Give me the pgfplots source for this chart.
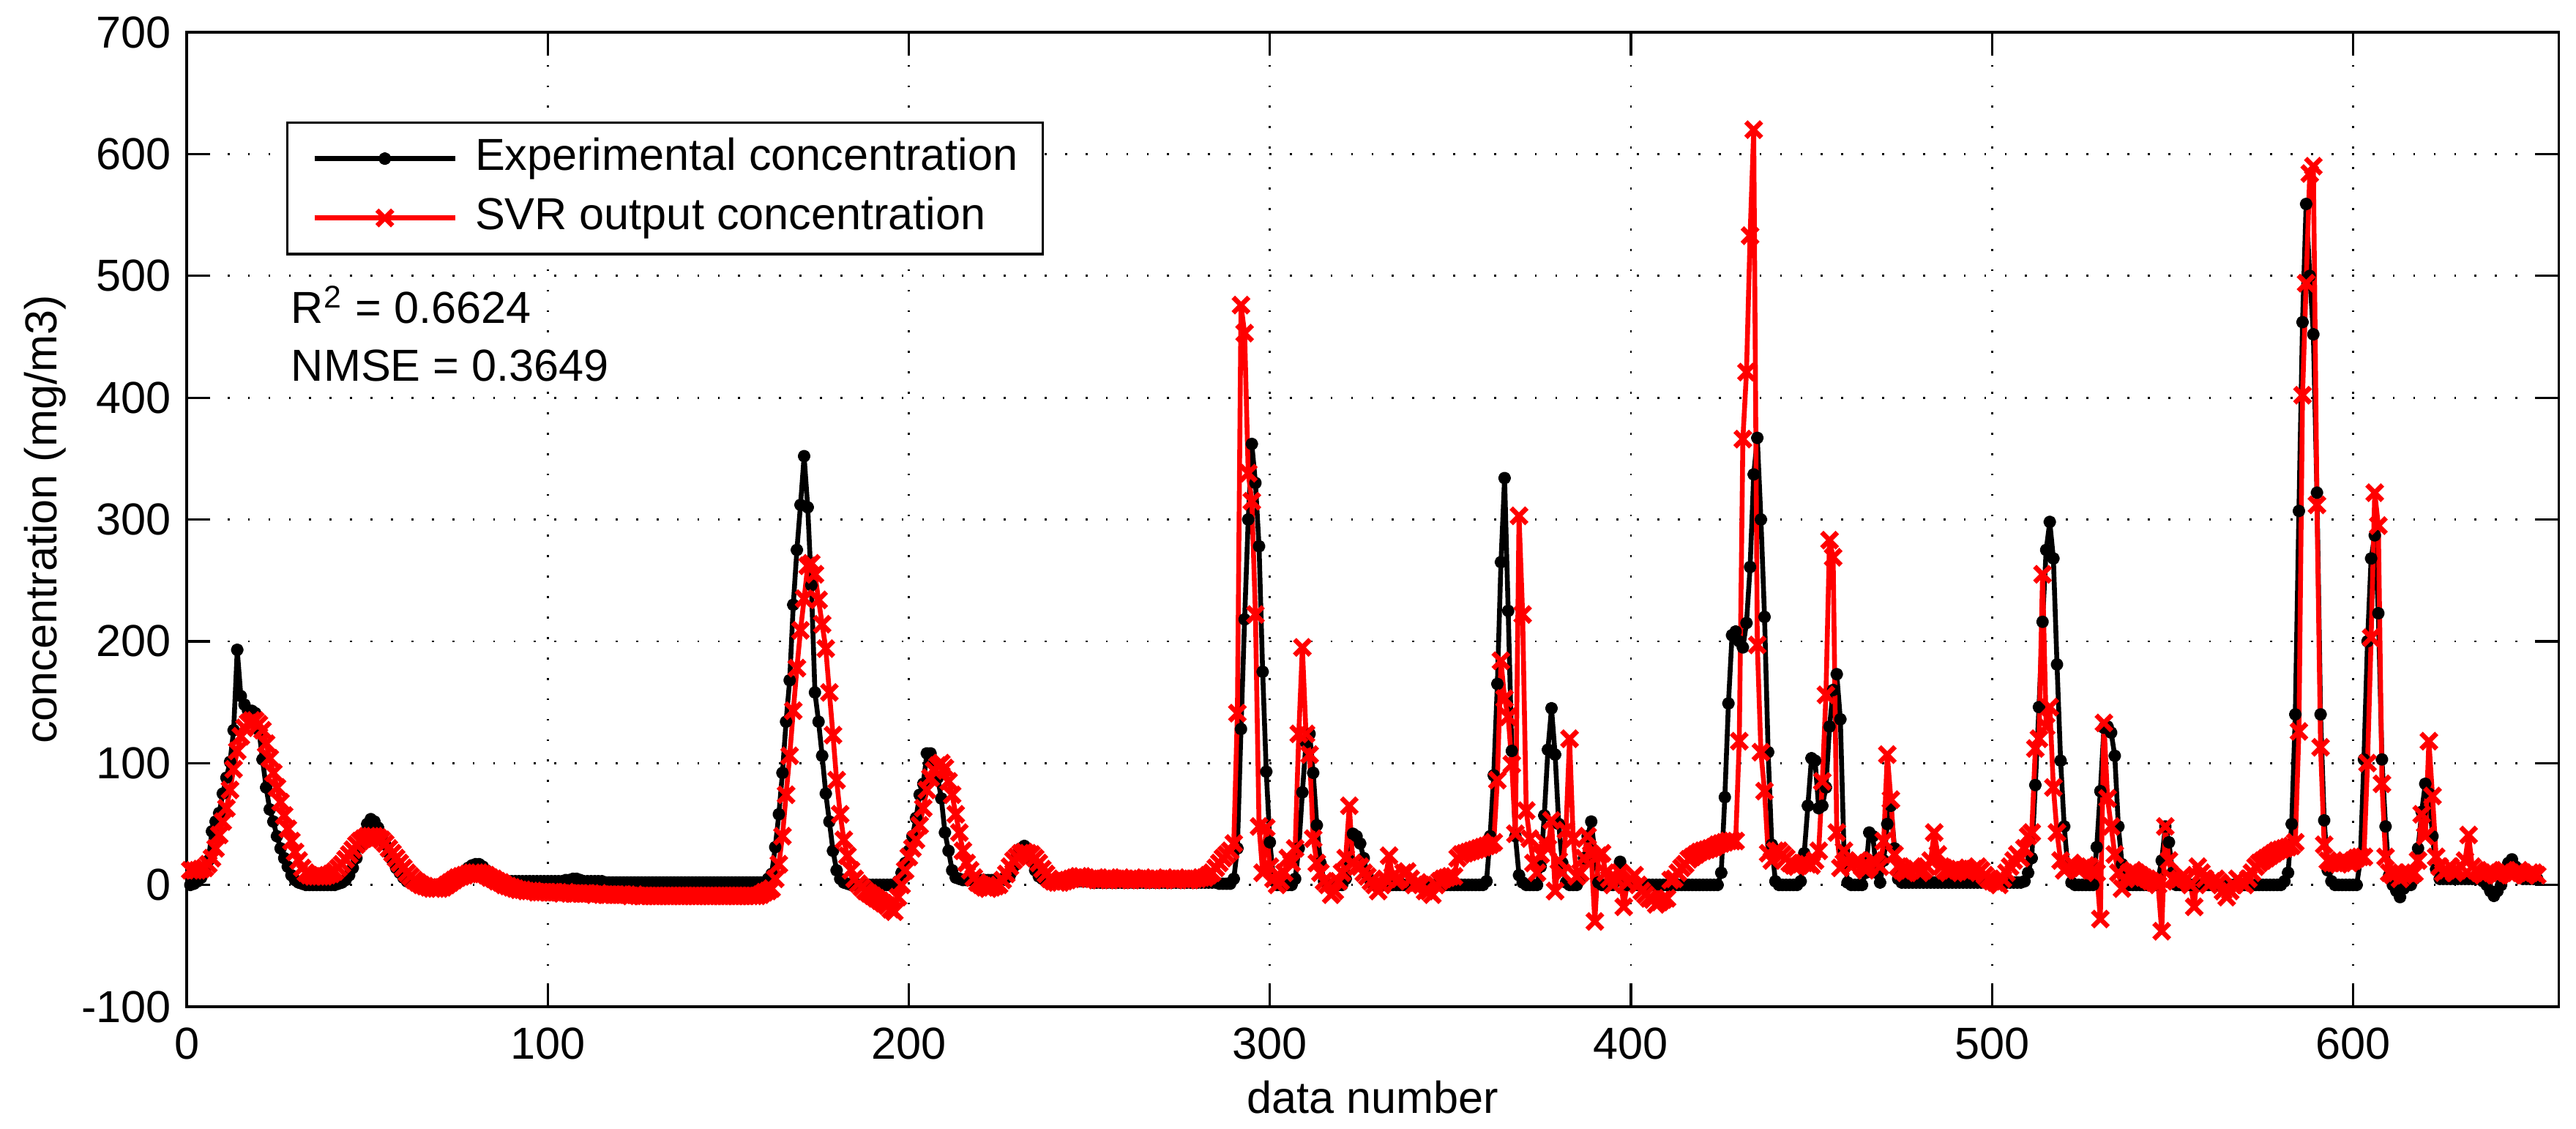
\documentclass[border=0pt]{standalone}
\usepackage{fontspec}
\setmainfont{Liberation Sans}
\usepackage{pgfplots}
\usepackage{pgfplotstable}
\pgfplotsset{compat=1.18}

\pgfplotstableread{
x E S
1 0 12
2 1 12
3 3 12
4 6 13
5 12 14
6 20 17
7 44 22
8 52 30
9 59 41
10 75 52
11 88 63
12 101 78
13 127 95
14 193 110
15 155 122
16 148 129
17 143 133
18 143 135
19 141 135
20 127 132
21 103 127
22 80 116
23 62 104
24 52 92
25 40 80
26 30 68
27 22 57
28 15 46
29 8 36
30 4 27
31 2 20
32 1 14
33 0 10
34 0 8
35 0 7
36 0 7
37 0 7
38 0 7
39 0 8
40 0 9
41 0 11
42 1 14
43 2 17
44 4 21
45 8 25
46 14 29
47 22 33
48 32 36
49 42 38
50 50 40
51 54 40
52 52 40
53 47 39
54 40 37
55 33 34
56 26 30
57 20 26
58 14 22
59 10 18
60 6 14
61 3 10
62 2 7
63 1 4
64 0 2
65 0 0
66 0 -1
67 0 -2
68 0 -3
69 0 -3
70 0 -3
71 0 -2
72 1 0
73 2 2
74 3 4
75 5 6
76 8 7
77 11 8
78 14 9
79 16 10
80 17 10
81 17 10
82 15 9
83 12 8
84 9 6
85 7 5
86 5 3
87 4 2
88 3 0
89 3 -1
90 3 -2
91 3 -3
92 3 -4
93 3 -4
94 3 -5
95 3 -5
96 3 -5
97 3 -6
98 3 -6
99 3 -6
100 3 -6
101 3 -6
102 3 -6
103 3 -6
104 3 -7
105 4 -6
106 4 -7
107 5 -7
108 5 -7
109 4 -7
110 3 -7
111 3 -7
112 3 -7
113 3 -8
114 3 -7
115 3 -8
116 2 -8
117 2 -8
118 2 -8
119 2 -8
120 2 -8
121 2 -8
122 2 -8
123 2 -9
124 2 -8
125 2 -9
126 2 -9
127 2 -9
128 2 -9
129 2 -9
130 2 -9
131 2 -9
132 2 -9
133 2 -9
134 2 -9
135 2 -9
136 2 -9
137 2 -9
138 2 -9
139 2 -9
140 2 -9
141 2 -9
142 2 -9
143 2 -9
144 2 -9
145 2 -9
146 2 -9
147 2 -9
148 2 -9
149 2 -9
150 2 -9
151 2 -9
152 2 -9
153 2 -9
154 2 -9
155 2 -9
156 2 -9
157 2 -9
158 2 -9
159 2 -8
160 2 -6
161 5 -5
162 9 -3
163 31 5
164 58 17
165 92 40
166 134 74
167 168 106
168 230 143
169 275 178
170 312 209
171 352 235
172 310 262
173 246 264
174 158 255
175 134 234
176 106 214
177 75 194
178 52 158
179 28 123
180 12 86
181 5 58
182 2 37
183 1 24
184 0 12
185 0 5
186 0 1
187 0 -2
188 0 -5
189 0 -7
190 0 -9
191 0 -11
192 0 -13
193 0 -15
194 0 -17
195 0 -20
196 0 -22
197 3 -10
198 10 0
199 18 12
200 28 23
201 40 30
202 55 37
203 74 49
204 83 63
205 108 78
206 108 88
207 100 94
208 88 98
209 71 100
210 43 96
211 28 85
212 12 74
213 6 58
214 5 43
215 4 28
216 4 18
217 4 12
218 4 6
219 4 2
220 4 0
221 4 -2
222 4 -3
223 4 -2
224 4 -1
225 4 0
226 5 4
227 6 9
228 8 15
229 15 20
230 25 23
231 30 26
232 32 27
233 28 26
234 20 25
235 12 22
236 7 18
237 5 13
238 4 9
239 3 5
240 3 3
241 3 2
242 3 2
243 3 3
244 3 4
245 3 5
246 3 6
247 3 7
248 3 7
249 3 6
250 3 5
251 2 5
252 2 4
253 2 4
254 2 5
255 2 6
256 2 6
257 2 5
258 2 4
259 2 4
260 2 5
261 2 5
262 2 6
263 2 5
264 2 4
265 2 4
266 2 5
267 2 5
268 2 6
269 2 5
270 2 4
271 2 4
272 2 5
273 2 5
274 2 6
275 2 5
276 2 5
277 2 4
278 2 4
279 2 5
280 2 5
281 2 6
282 2 6
283 2 8
284 2 10
285 2 14
286 1 18
287 1 22
288 1 25
289 1 28
290 5 34
291 30 141
292 128 476
293 218 453
294 300 338
295 362 315
296 330 222
297 278 48
298 175 10
299 93 47
300 35 15
301 5 5
302 0 0
303 0 3
304 0 10
305 0 22
306 0 18
307 5 30
308 30 124
309 76 195
310 117 124
311 124 107
312 92 38
313 49 18
314 18 10
315 3 3
316 0 0
317 0 -8
318 0 -5
319 0 3
320 0 10
321 5 22
322 20 65
323 42 18
324 40 15
325 34 15
326 22 10
327 8 7
328 2 3
329 0 0
330 0 -5
331 0 0
332 0 5
333 0 24
334 0 7
335 0 3
336 0 5
337 0 10
338 0 11
339 0 5
340 0 0
341 0 2
342 0 0
343 0 -5
344 0 -5
345 0 -8
346 0 0
347 0 3
348 0 5
349 0 6
350 0 7
351 0 7
352 0 22
353 0 25
354 0 26
355 0 27
356 0 28
357 0 29
358 0 30
359 0 31
360 3 32
361 40 33
362 90 35
363 165 86
364 265 184
365 334 153
366 225 138
367 110 99
368 40 42
369 8 303
370 2 222
371 0 61
372 0 38
373 0 18
374 0 10
375 15 25
376 57 35
377 111 30
378 145 53
379 107 -5
380 50 20
381 18 10
382 2 45
383 0 120
384 0 38
385 0 7
386 5 10
387 22 22
388 40 40
389 52 25
390 26 -30
391 2 24
392 0 26
393 0 10
394 0 5
395 0 0
396 5 5
397 19 10
398 5 -18
399 0 2
400 0 5
401 0 8
402 0 0
403 0 -5
404 0 -8
405 0 -11
406 0 -12
407 0 -16
408 0 -14
409 0 -12
410 0 -11
411 0 4
412 0 5
413 0 10
414 0 14
415 0 17
416 0 21
417 0 23
418 0 25
419 0 27
420 0 28
421 0 29
422 0 30
423 0 31
424 0 33
425 10 34
426 72 35
427 149 36
428 205 36
429 208 36
430 200 118
431 195 366
432 215 421
433 261 533
434 337 620
435 367 197
436 300 109
437 220 77
438 109 26
439 33 20
440 3 28
441 0 28
442 0 25
443 0 22
444 0 18
445 0 16
446 0 15
447 3 17
448 26 18
449 65 17
450 104 16
451 102 20
452 63 28
453 65 85
454 80 156
455 130 283
456 160 269
457 173 43
458 136 14
459 28 28
460 2 19
461 0 15
462 0 18
463 0 20
464 0 15
465 10 12
466 43 15
467 40 20
468 10 18
469 2 15
470 20 36
471 50 107
472 65 70
473 30 25
474 5 15
475 2 12
476 2 10
477 2 12
478 2 15
479 2 13
480 2 10
481 2 12
482 2 15
483 2 20
484 2 43
485 2 25
486 2 15
487 2 12
488 2 10
489 2 12
490 2 14
491 2 13
492 2 12
493 2 10
494 2 11
495 2 13
496 2 15
497 2 12
498 2 8
499 2 5
500 2 3
501 2 2
502 2 0
503 2 5
504 2 10
505 2 15
506 2 20
507 2 25
508 2 22
509 3 30
510 10 40
511 22 43
512 82 112
513 146 120
514 216 255
515 275 130
516 298 146
517 268 80
518 181 43
519 102 20
520 48 12
521 14 15
522 2 18
523 0 15
524 0 12
525 0 14
526 0 16
527 0 15
528 0 12
529 31 10
530 77 -28
531 129 133
532 130 71
533 125 48
534 106 25
535 48 10
536 17 -3
537 3 5
538 0 10
539 0 12
540 0 10
541 0 8
542 0 6
543 0 5
544 0 3
545 0 2
546 5 0
547 20 -38
548 48 48
549 35 20
550 10 5
551 0 3
552 0 5
553 0 8
554 0 5
555 0 0
556 0 -18
557 0 15
558 0 10
559 0 5
560 0 0
561 0 3
562 0 5
563 0 2
564 0 -5
565 0 -10
566 0 -5
567 0 0
568 0 5
569 0 2
570 0 0
571 0 5
572 0 10
573 0 15
574 0 18
575 0 20
576 0 22
577 0 24
578 0 26
579 0 28
580 0 29
581 3 30
582 10 31
583 50 32
584 140 35
585 307 126
586 462 402
587 559 494
588 500 584
589 452 590
590 322 312
591 140 113
592 53 33
593 12 20
594 3 18
595 0 18
596 0 17
597 0 18
598 0 20
599 0 18
600 0 20
601 0 22
602 20 23
603 103 23
604 200 100
605 268 203
606 287 322
607 223 295
608 103 83
609 48 23
610 8 10
611 0 8
612 -5 10
613 -10 5
614 -3 8
615 0 10
616 0 8
617 5 10
618 30 20
619 60 58
620 83 40
621 75 118
622 40 73
623 13 23
624 5 15
625 5 10
626 5 12
627 5 15
628 5 10
629 5 12
630 5 15
631 5 20
632 5 41
633 5 15
634 5 12
635 5 10
636 3 8
637 0 10
638 -5 12
639 -9 10
640 -5 8
641 0 10
642 10 12
643 18 10
644 21 8
645 15 10
646 8 12
647 5 10
648 5 8
649 5 10
650 5 10
651 5 8
}\data

\begin{document}
\begin{tikzpicture}
\begin{axis}[
  at={(0pt,0pt)}, anchor=south west,
  scale only axis, width=540pt, height=221.8pt,
  xmin=0, xmax=657, ymin=-100, ymax=700,
  xtick={0,100,200,300,400,500,600},
  ytick={-100,0,100,200,300,400,500,600,700},
  tick align=inside, xtick pos=both, ytick pos=both,
  major tick length=5.4pt,
  xmajorgrids, ymajorgrids,
  major grid style={black, line width=0.45pt, dash pattern=on 0.45pt off 4.2pt},
  axis line style={black, line width=0.55pt},
  every tick/.style={black, line width=0.55pt},
  /pgf/number format/assume math mode=true,
  /pgf/number format/1000 sep={},
  ticklabel style={font=\fontsize{10.2}{12}\selectfont},
  xticklabel style={yshift=-1.3pt},
  label style={font=\fontsize{10.2}{12}\selectfont},
  xlabel={data number},
  ylabel={concentration (mg/m3)},
  xlabel style={at={(axis description cs:0.5,0)}, anchor=base, yshift=-24.2pt},
  ylabel style={at={(axis description cs:-0.0598,0.5)}, anchor=center},
  legend style={at={(0.042,0.9085)}, anchor=north west, draw=black, line width=0.55pt, fill=white,
    font=\fontsize{10.2}{12}\selectfont, inner xsep=5.6pt, inner ysep=3.5pt, row sep=4.1pt,
    nodes={inner sep=0pt, text height=7.3pt, text depth=2.1pt},
    /tikz/every odd column/.append style={column sep=4pt}},
  legend cell align=left,
  legend image code/.code={\draw[mark repeat=2, mark phase=2, #1] plot coordinates {(0pt,0pt) (16pt,0pt) (32pt,0pt)};},
]
\addplot[black, line width=1.1pt, line join=round, mark=*, mark size=0.9pt]
  table[x=x, y=E] {\data};
\addplot[red, line width=1.1pt, line join=round, mark=x, mark size=2.5pt, mark options={line width=1.1pt}]
  table[x=x, y=S] {\data};
\legend{Experimental concentration, SVR output concentration}
\node[anchor=base west, inner sep=0pt, font=\fontsize{10.2}{12}\selectfont] at (axis description cs:0.0437,0.7011) {R\textsuperscript{2} = 0.6624};
\node[anchor=base west, inner sep=0pt, font=\fontsize{10.2}{12}\selectfont] at (axis description cs:0.0437,0.642) {NMSE = 0.3649};
\end{axis}
\pgfresetboundingbox
\path[use as bounding box] (-42.5pt,-27.67pt) rectangle (543.9pt,229.13pt);
\end{tikzpicture}
\end{document}
